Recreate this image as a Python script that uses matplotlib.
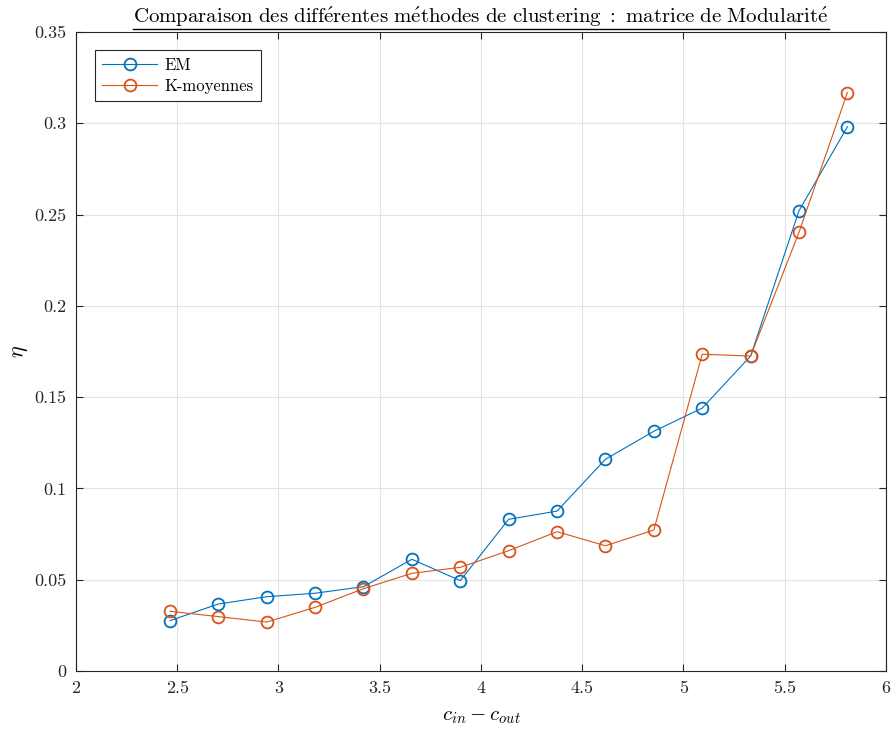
import matplotlib
matplotlib.use("Agg")
import matplotlib.pyplot as plt
from matplotlib.lines import Line2D
from matplotlib.ticker import FuncFormatter

# Data
c_diff = [2.464, 2.703, 2.942, 3.181, 3.420, 3.659, 3.898, 4.137,
          4.376, 4.615, 4.854, 5.093, 5.332, 5.571, 5.810]
eta_em = [0.0276, 0.0367, 0.0407, 0.0426, 0.0462, 0.0612, 0.0495, 0.0831,
          0.0876, 0.1160, 0.1313, 0.1440, 0.1725, 0.2521, 0.2981]
eta_km = [0.0327, 0.0298, 0.0268, 0.0349, 0.0451, 0.0535, 0.0568, 0.0659,
          0.0763, 0.0686, 0.0772, 0.1735, 0.1725, 0.2403, 0.3168]
x_ticks = [2, 2.5, 3, 3.5, 4, 4.5, 5, 5.5, 6]
y_ticks = [0, 0.05, 0.1, 0.15, 0.2, 0.25, 0.3, 0.35]

plt.rcParams["font.family"] = ["cmr10", "DejaVu Serif"]
plt.rcParams["mathtext.fontset"] = "cm"
plt.rcParams["axes.unicode_minus"] = False
plt.rcParams["axes.formatter.use_mathtext"] = True

BLUE = (0.0, 0.447, 0.741)
ORANGE = (0.85, 0.325, 0.098)
AXIS_COLOR = "#262626"

fig = plt.figure(figsize=(8.93, 7.30), dpi=100)
ax = fig.add_axes([0.0851, 0.0808, 0.9069, 0.8754])

ax.plot(c_diff, eta_em, color=BLUE, lw=0.8, marker="o", markersize=8.5,
        markerfacecolor="none", markeredgewidth=1.3, label="EM")
ax.plot(c_diff, eta_km, color=ORANGE, lw=0.8, marker="o", markersize=8.5,
        markerfacecolor="none", markeredgewidth=1.3, label="K-moyennes")

ax.set_xlim(2, 6)
ax.set_ylim(0, 0.35)
ax.set_xticks(x_ticks)
ax.set_yticks(y_ticks)
ax.xaxis.set_major_formatter(FuncFormatter(lambda v, p: f"{v:g}"))
ax.yaxis.set_major_formatter(FuncFormatter(lambda v, p: f"{v:g}"))
ax.tick_params(direction="in", top=True, right=True, length=5,
               width=0.8, colors=AXIS_COLOR, labelsize=13, pad=7)
ax.grid(True, color="#e3e3e3", lw=0.8)
ax.set_axisbelow(True)
for spine in ax.spines.values():
    spine.set_color(AXIS_COLOR)
    spine.set_linewidth(0.8)

ax.set_xlabel(r"$c_{in} - c_{out}$", fontsize=15, labelpad=9)
ax.set_ylabel(r"$\eta$", fontsize=16, labelpad=3)

# title placed on its baseline, centred over the axes, then underlined
title = fig.text(
    0.5386, 1 - 23 / 730,
    r"$\mathrm{Comparaison\ des\ diff\acute{e}rentes\ m\acute{e}thodes\ de\ clustering\ :\ matrice\ de\ Modularit\acute{e}}$",
    fontsize=15, ha="center", va="baseline")

leg = ax.legend(loc="upper left", fontsize=12, fancybox=False, framealpha=1,
                edgecolor=AXIS_COLOR, borderpad=0.45, handlelength=3.3,
                handletextpad=0.4, labelspacing=0.35,
                bbox_to_anchor=(0.013, 0.985))
leg.get_frame().set_linewidth(0.8)

fig.canvas.draw()
bb = title.get_window_extent().transformed(fig.transFigure.inverted())
y_line = 1 - 28.7 / 730
fig.add_artist(Line2D([bb.x0, bb.x1], [y_line, y_line],
                      color="black", lw=1.0, transform=fig.transFigure))

fig.savefig("out.png", dpi=100)
